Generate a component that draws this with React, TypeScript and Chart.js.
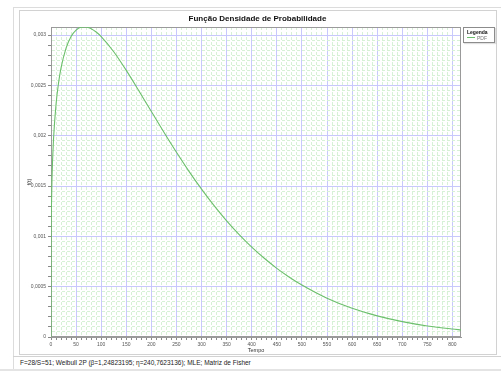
import React, { useEffect, useRef } from 'react';
import { Chart, registerables } from 'chart.js';
Chart.register(...registerables);

// Tempo (x) and f(t) (y)
const tempo = [0, 0.25, 1, 2, 3, 5, 10, 15, 20, 30, 40, 50, 60, 70, 80, 90, 100, 125, 150, 175, 200, 225, 250, 275, 300, 325, 350, 375, 400, 425, 450, 475, 500, 550, 600, 650, 700, 750, 800, 817];
const pdf = [0, 0.000942, 0.001328, 0.001575, 0.001738, 0.001966, 0.00231, 0.002523, 0.002673, 0.00287, 0.002986, 0.003049, 0.003078, 0.00308, 0.003063, 0.00303, 0.002985, 0.002834, 0.002649, 0.002447, 0.00224, 0.002034, 0.001835, 0.001646, 0.001469, 0.001305, 0.001154, 0.001017, 0.000893, 0.000782, 0.000682, 0.000594, 0.000516, 0.000385, 0.000285, 0.00021, 0.000153, 0.00011, 0.0000794, 0.0000708];

const xMajorTicks = [0, 50, 100, 150, 200, 250, 300, 350, 400, 450, 500, 550, 600, 650, 700, 750, 800];
const yMajorTicks = [0, 0.0005, 0.001, 0.0015, 0.002, 0.0025, 0.003];
const yTickLabels = ['0', '0,0005', '0,001', '0,0015', '0,002', '0,0025', '0,003'];

const X_MAX = 817;
const Y_MAX = 0.00308;

const TITLE = 'Função Densidade de Probabilidade';
const FOOTER = 'F=28/S=51; Weibull 2P (β=1,24823195; η=240,7623136); MLE; Matriz de Fisher';

const FONT = "'Liberation Sans', Arial, sans-serif";
const BLUE = '#c8c8fc';
const GREEN = '#d6f1d6';
const CURVE = '#6cbf6c';

const near = (a: number, b: number, eps: number) => Math.abs(a - b) < eps;
const onStep = (v: number, s: number) => Math.abs(v / s - Math.round(v / s)) < 1e-6;

export default function App() {
  const ref = useRef<HTMLCanvasElement>(null);
  useEffect(() => {
    if (!ref.current) return;
    const frame = {
      id: 'frame',
      beforeDatasetsDraw(c: any) {
        const { ctx, chartArea: a } = c;
        ctx.save();
        ctx.strokeStyle = '#9a9a9a';
        ctx.lineWidth = 1;
        const l = Math.round(a.left) + 0.5, t = Math.round(a.top) + 0.5;
        const r = Math.round(a.right) - 0.5, b = Math.round(a.bottom) - 0.5;
        ctx.strokeRect(l, t, r - l, b - t);
        ctx.restore();
      },
    };
    const isXMajor = (v: number) => xMajorTicks.some((m) => near(m, v, 1e-6));
    const yIdx = (v: number) => yMajorTicks.findIndex((m) => near(m, v, 1e-9));
    const chart = new Chart(ref.current, {
      type: 'line',
      data: {
        datasets: [
          {
            label: 'PDF',
            data: tempo.map((t, i) => ({ x: t, y: pdf[i] })),
            borderColor: CURVE,
            borderWidth: 1.1,
            pointRadius: 0,
            cubicInterpolationMode: 'monotone',
            fill: false,
          },
        ],
      },
      options: {
        animation: false,
        responsive: false,
        devicePixelRatio: 1,
        layout: { padding: 0 },
        plugins: {
          legend: { display: false },
          tooltip: { enabled: false },
          title: {
            display: true,
            text: TITLE,
            color: '#111',
            font: { family: FONT, size: 8, weight: 'bold' },
            padding: { top: 3, bottom: 3.4 },
          },
        },
        scales: {
          x: {
            type: 'linear',
            min: 0,
            max: X_MAX,
            afterFit: (s: any) => { s.height = 17; },
            ticks: {
              stepSize: 10,
              autoSkip: false,
              maxRotation: 0,
              color: '#555',
              padding: 2,
              font: { family: FONT, size: 5 },
              callback: (v: any) => (isXMajor(Number(v)) ? String(Math.round(Number(v))) : ''),
            },
            grid: {
              lineWidth: 1,
              tickLength: 3,
              color: (ctx: any) => {
                const v = ctx.tick ? ctx.tick.value : 0;
                if (near(v, X_MAX, 1e-6)) return 'rgba(0,0,0,0)';
                return isXMajor(v) ? BLUE : GREEN;
              },
              tickColor: (ctx: any) => {
                const v = ctx.tick ? ctx.tick.value : 0;
                return near(v, X_MAX, 1e-6) ? 'rgba(0,0,0,0)' : '#888';
              },
            },
            border: {
              color: '#9a9a9a',
              dash: (ctx: any) => {
                if (!ctx.tick) return [];
                return isXMajor(ctx.tick.value) ? [] : [3, 2];
              },
            },
            title: {
              display: true,
              text: 'Tempo',
              color: '#333',
              font: { family: FONT, size: 5.5 },
              padding: { top: 0, bottom: 0 },
            },
          },
          y: {
            type: 'linear',
            min: 0,
            max: Y_MAX,
            afterFit: (s: any) => { s.width = 31; },
            ticks: {
              stepSize: 0.00005,
              autoSkip: false,
              color: '#555',
              padding: 2,
              font: { family: FONT, size: 5 },
              callback: (v: any) => {
                const i = yIdx(Number(v));
                return i >= 0 ? yTickLabels[i] : '';
              },
            },
            grid: {
              lineWidth: 1,
              tickLength: 3,
              color: (ctx: any) => {
                const v = ctx.tick ? ctx.tick.value : 0;
                if (near(v, Y_MAX, 1e-9)) return 'rgba(0,0,0,0)';
                return yIdx(v) >= 0 ? BLUE : GREEN;
              },
              tickColor: (ctx: any) => {
                const v = ctx.tick ? ctx.tick.value : 0;
                if (near(v, Y_MAX, 1e-9)) return 'rgba(0,0,0,0)';
                return onStep(v, 0.0001) ? '#888' : 'rgba(0,0,0,0)';
              },
            },
            border: {
              color: '#9a9a9a',
              dash: (ctx: any) => {
                if (!ctx.tick) return [];
                return yIdx(ctx.tick.value) >= 0 ? [] : [3, 2];
              },
            },
            title: {
              display: true,
              text: 'f(t)',
              color: '#333',
              font: { family: FONT, size: 5.5 },
              padding: { top: 6, bottom: 0 },
            },
          },
          y2: {
            type: 'linear',
            position: 'right',
            display: true,
            afterFit: (s: any) => { s.width = 34; },
            grid: { display: false, drawTicks: false },
            ticks: { display: false },
            border: { display: false },
          },
        },
      } as any,
      plugins: [frame],
    });
    return () => chart.destroy();
  }, []);

  return (
    <div style={{ position: 'absolute', left: 0, top: 0, width: 501, height: 371, overflow: 'hidden', background: '#fff', fontFamily: FONT }}>
      <div style={{ position: 'absolute', left: 13, top: 7, width: 490, height: 370, border: '1px solid #dcdcdc', boxSizing: 'border-box' }} />
      <div style={{ position: 'absolute', left: 19, top: 10, width: 478, height: 345, border: '1px solid #d2d2d2', boxSizing: 'border-box' }} />
      <canvas ref={ref} width={475} height={343} style={{ position: 'absolute', left: 20, top: 11, width: 475, height: 343 }} />
      <div style={{ position: 'absolute', left: 463, top: 27, width: 32, height: 16, border: '1px solid #8c8c8c', boxSizing: 'border-box', background: '#fff', boxShadow: '1px 1px 1px rgba(0,0,0,0.12)' }}>
        <div style={{ position: 'absolute', left: 3, top: 1, fontSize: 5, fontWeight: 'bold', color: '#111', lineHeight: '6px', whiteSpace: 'nowrap' }}>Legenda</div>
        <div style={{ position: 'absolute', left: 3, top: 9, width: 8, height: 1, background: CURVE }} />
        <div style={{ position: 'absolute', left: 13, top: 7, fontSize: 5, color: '#777', lineHeight: '6px', whiteSpace: 'nowrap' }}>PDF</div>
      </div>
      <div style={{ position: 'absolute', left: 13, top: 356, width: 490, height: 1, background: '#d2d2d2' }} />
      <div style={{ position: 'absolute', left: 20, top: 359, fontSize: 6.5, color: '#222', lineHeight: '8px', whiteSpace: 'nowrap' }}>{FOOTER}</div>
      <div style={{ position: 'absolute', left: 0, top: 369, width: 501, height: 2, background: '#e4e4e4' }} />
    </div>
  );
}
